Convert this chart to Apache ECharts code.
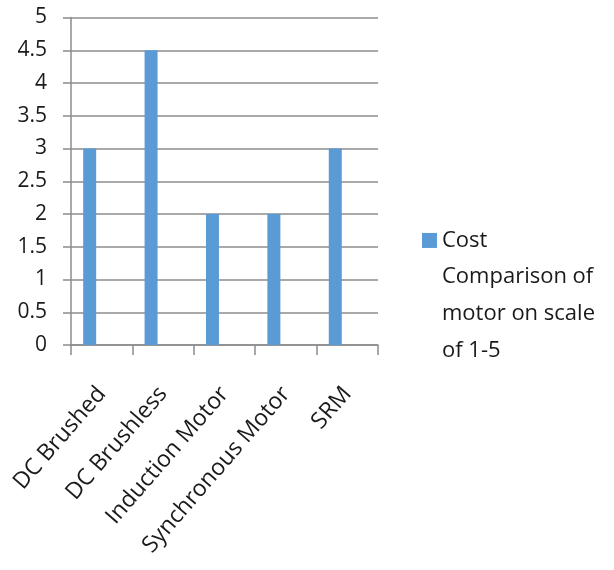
<!DOCTYPE html>
<html><head><meta charset="utf-8">
<script src="https://cdn.jsdelivr.net/npm/echarts@6/dist/echarts.min.js"></script>
<style>html,body{margin:0;padding:0;background:#fff}#c{width:614px;height:570px}</style>
</head><body><div id="c"></div>
<script>
const categories = ['DC Brushed', 'DC Brushless', 'Induction Motor', 'Synchronous Motor', 'SRM'];
const costValues = [3, 4.5, 2, 2, 3];
const seriesName = 'Cost Comparison of motor on scale of 1-5';
const legendLines = ['Cost', 'Comparison of', 'motor on scale', 'of 1-5'];

const FONT = '"Open Sans", sans-serif';
const chart = echarts.init(document.getElementById('c'), null, {renderer: 'canvas'});
chart.setOption({
  animation: false,
  backgroundColor: '#fff',
  grid: {left: 71, right: 236, top: 17.5, bottom: 225, containLabel: false},
  legend: {
    data: [seriesName],
    orient: 'vertical',
    left: 422, top: 112, padding: 0,
    icon: 'rect', itemWidth: 15, itemHeight: 15,
    // blank lines above keep the first text line level with the icon
    formatter: () => '\n\n\n' + legendLines.join('\n'),
    textStyle: {fontFamily: FONT, fontSize: 22, color: '#1a1a1a', lineHeight: 36.7}
  },
  xAxis: {
    type: 'category', data: categories,
    axisLine: {lineStyle: {color: '#8c8c8c', width: 1.5}},
    axisTick: {show: true, length: 10, lineStyle: {color: '#8c8c8c', width: 1.5}},
    axisLabel: {rotate: 49, margin: 45, fontFamily: FONT, fontSize: 23, color: '#1a1a1a', interval: 0}
  },
  yAxis: {
    type: 'value', min: 0, max: 5, interval: 0.5,
    axisLine: {show: true, lineStyle: {color: '#8c8c8c', width: 1.5}},
    axisTick: {show: true, length: 8, lineStyle: {color: '#8c8c8c', width: 1.5}},
    splitLine: {lineStyle: {color: '#8c8c8c', width: 1.5}},
    axisLabel: {margin: 24, fontFamily: FONT, fontSize: 21, color: '#1a1a1a'}
  },
  series: [
    {name: seriesName, type: 'bar', data: costValues, barWidth: 13, barGap: '85%', itemStyle: {color: '#5b9bd5'}},
    {name: 'spacer', type: 'bar', data: [], barWidth: 13}
  ]
});
</script></body></html>
